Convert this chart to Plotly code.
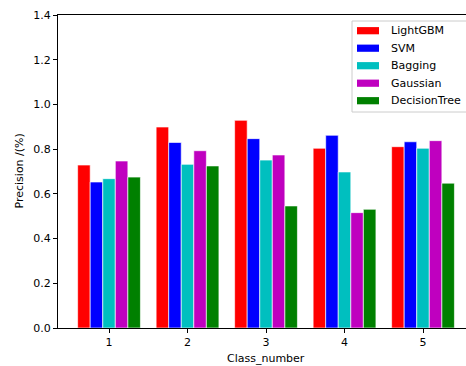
import plotly.graph_objects as go

# ---- data ----
classes = [1, 2, 3, 4, 5]
model_names = ["LightGBM", "SVM", "Bagging", "Gaussian", "DecisionTree"]
lightgbm = [0.729, 0.899, 0.929, 0.804, 0.811]
svm = [0.653, 0.830, 0.847, 0.862, 0.833]
bagging = [0.668, 0.732, 0.751, 0.698, 0.804]
gaussian = [0.747, 0.793, 0.774, 0.516, 0.838]
decision_tree = [0.675, 0.725, 0.546, 0.531, 0.648]
y_ticks = [0.0, 0.2, 0.4, 0.6, 0.8, 1.0, 1.2, 1.4]
x_title = "Class_number"
y_title = "Precision /(%)"

series = [lightgbm, svm, bagging, gaussian, decision_tree]
colors = ["#ff0000", "#0000ff", "#00bfbf", "#bf00bf", "#008000"]

W, H = 466, 366
L, R, T, B = 58, 0, 15, 38
PW, PH = W - L - R, H - T - B
FONT = dict(family="DejaVu Sans", size=11, color="black")

def px2x(px):
    return (px - L) / PW

def px2y(py):
    return (H - B - py) / PH

fig = go.Figure()
for name, vals, col in zip(model_names, series, colors):
    fig.add_trace(go.Bar(
        x=classes, y=vals, name=name,
        marker=dict(color=col, line=dict(color="rgba(255,255,255,0.8)", width=0.8)),
        showlegend=False,
    ))

shapes = []
annotations = []

# legend box
shapes.append(dict(type="rect", xref="paper", yref="paper",
                   x0=px2x(352), x1=px2x(472), y0=px2y(112), y1=px2y(21),
                   line=dict(color="#cccccc", width=1),
                   fillcolor="rgba(255,255,255,0.8)", layer="above"))
for i, (name, col) in enumerate(zip(model_names, colors)):
    cy = 30.7 + 17.5 * i
    shapes.append(dict(type="rect", xref="paper", yref="paper",
                       x0=px2x(357), x1=px2x(379), y0=px2y(cy + 3.6), y1=px2y(cy - 3.6),
                       line=dict(width=0), fillcolor=col, layer="above"))
    annotations.append(dict(text=name, xref="paper", yref="paper",
                            x=px2x(389), y=px2y(cy), xanchor="left", yanchor="middle",
                            showarrow=False, font=FONT))

annotations.append(dict(text=x_title, xref="paper", yref="paper",
                        x=px2x(266), y=px2y(358), xanchor="center", yanchor="middle",
                        showarrow=False, font=FONT))
annotations.append(dict(text=y_title, xref="paper", yref="paper",
                        x=px2x(19), y=0.5, xanchor="center", yanchor="middle",
                        textangle=-90, showarrow=False, font=FONT))

fig.update_layout(
    width=W, height=H,
    margin=dict(l=L, r=R, t=T, b=B, pad=0),
    paper_bgcolor="white", plot_bgcolor="white",
    barmode="group", bargap=0.2, bargroupgap=0,
    font=FONT,
    shapes=shapes, annotations=annotations,
    showlegend=False,
)
fig.update_xaxes(
    range=[0.35, 0.35 + PW / 78.5],
    tickmode="array", tickvals=classes, ticktext=[str(c) for c in classes],
    showgrid=False, zeroline=False,
    showline=True, linecolor="black", linewidth=1, mirror=True,
    ticks="outside", ticklen=4, tickcolor="black", tickwidth=1,
    tickfont=FONT,
)
fig.update_yaxes(
    range=[0, 1.4],
    tickmode="array", tickvals=y_ticks, ticktext=[f"{v:.1f}" for v in y_ticks],
    showgrid=False, zeroline=False,
    showline=True, linecolor="black", linewidth=1, mirror=False,
    ticks="outside", ticklen=4, tickcolor="black", tickwidth=1,
    tickfont=FONT,
)

fig.write_html(
    "out.html",
    config={"displayModeBar": False, "staticPlot": True},
    post_script="document.body.style.margin='0';document.body.style.padding='0';"
                "document.body.style.overflow='hidden';"
                "document.documentElement.style.overflow='hidden';",
)
